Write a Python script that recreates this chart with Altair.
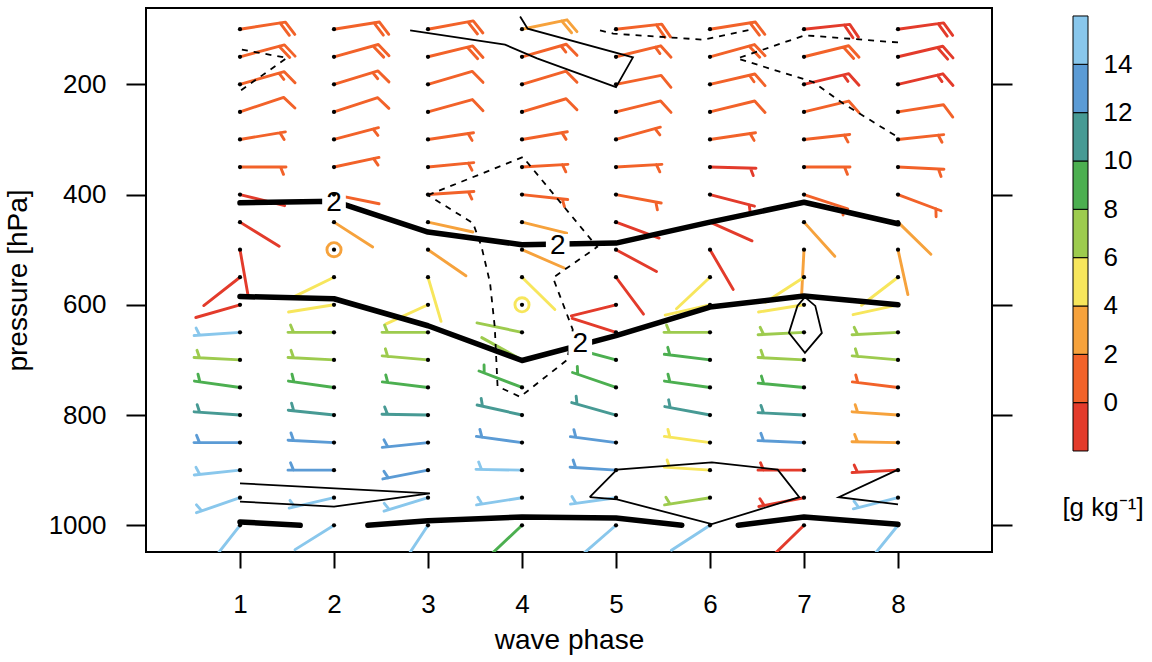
import altair as alt
import pandas as pd

FONT = "Liberation Sans"

# ---------------- data ----------------
phases = [1, 2, 3, 4, 5, 6, 7, 8]
levels = [100, 150, 200, 250, 300, 350, 400, 450, 500, 550,
          600, 650, 700, 750, 800, 850, 900, 950, 1000]

# barb kind per level (top -> bottom): 0 = shaft only, h = half, f = full,
# fh = full+half, ff = two full, c = calm circle
kind_p1 = ["ff", "ff", "fh", "f", "h", "h", "0", "0", "0", "0", "0", "h", "h", "h", "h", "h", "h", "h", "0"]
kind_p2 = ["ff", "ff", "fh", "f", "h", "h", "0", "0", "c", "0", "0", "h", "h", "h", "h", "h", "h", "h", "0"]
kind_p3 = ["ff", "ff", "f", "f", "h", "h", "h", "0", "0", "0", "0", "h", "h", "h", "h", "h", "h", "h", "0"]
kind_p4 = ["ff", "fh", "f", "f", "h", "h", "h", "0", "0", "0", "c", "0", "0", "h", "h", "h", "h", "h", "0"]
kind_p5 = ["ff", "fh", "f", "f", "h", "h", "h", "0", "0", "0", "0", "0", "h", "h", "h", "h", "h", "h", "0"]
kind_p6 = ["ff", "ff", "fh", "f", "h", "h", "h", "0", "0", "0", "0", "h", "h", "h", "h", "h", "h", "h", "0"]
kind_p7 = ["ff", "ff", "fh", "f", "h", "h", "h", "0", "0", "0", "0", "h", "h", "h", "h", "h", "h", "h", "0"]
kind_p8 = ["ff", "ff", "fh", "f", "h", "h", "h", "0", "0", "0", "0", "h", "h", "h", "h", "h", "h", "h", "0"]

# barb shaft direction on the page (degrees, clockwise from pointing right)
angle_p1 = [-8.9, -15, -16, -18.4, -9.5, 0, 14, 31.7, 80, 142, 164, 176, 183, 188, 184, 180, 174, 161, 128]
angle_p2 = [-9, -15.5, -16.9, -18, -14.8, -12, 11.5, 32.7, 0, 154, 171, 180, 183, 188, 186, 183, 180, 167, 148]
angle_p3 = [-10.4, -13.6, -16.4, -15.6, -8.4, -5.5, -3.8, 12.4, 34.6, 73.5, 155.5, 180, 185, 187, 181, 174, 169, 163, 123.5]
angle_p4 = [-11.8, -15.8, -16.6, -16.6, -9.7, -3.3, 6.2, 13.8, 23.5, 44.4, 0, 191.8, 209, 201, 192.6, 187.7, 181, 171, 136.7]
angle_p5 = [-6.4, -13.8, -11.2, -13.8, -15.5, -3.3, 10.6, 20.3, 28.4, 53.3, 166, 197.7, 195, 199, 195.7, 187.5, 183.7, 172, 139]
angle_p6 = [-9, -15.4, -13, -13.7, -8.4, 1.6, 14.6, 24, 59.7, 136.8, 167, 180, 187, 188, 190.6, 187.7, 183.8, 171, 147]
angle_p7 = [-6, -13.9, -13.4, -13.6, -6.2, 0, 18, 48, 93, 147, 171, 177, 183, 185.4, 183, 182.5, 180, 169, 135.7]
angle_p8 = [-7.9, -13.2, -13.2, -9, -6, 2.8, 20.6, 44.4, 77.6, 142.5, 167.6, 177, 185, 187, 184, 181, 177, 166, 129]

# specific humidity class (g/kg, estimated bin centre)
q_p1 = [1, 1, 1, 1, 1, 1, -1, -1, -1, -1, -1, 15, 7, 9, 11, 13, 15, 15, 15]
q_p2 = [1, 1, 1, 1, 1, 1, 1, 3, 3, 5, 5, 7, 7, 9, 11, 13, 13, 15, 15]
q_p3 = [1, 1, 1, 1, 1, 1, 1, 3, 3, 5, 5, 7, 7, 9, 11, 13, 13, 15, 15]
q_p4 = [3, 1, 1, 1, 1, 1, 1, 3, 3, 5, 5, 7, 7, 9, 11, 13, 15, 15, 9]
q_p5 = [1, 1, 1, 1, 1, 1, 1, -1, -1, -1, -1, -1, 9, 9, 11, 13, 13, 15, 15]
q_p6 = [1, 1, 1, 1, 1, -1, -1, -1, -1, 5, 5, 7, 9, 9, 11, 5, 5, 7, 15]
q_p7 = [-1, 1, -1, 1, 1, 1, 1, 3, 3, 5, 5, 7, 7, 9, 11, 13, -1, -1, -1]
q_p8 = [-1, -1, -1, 1, 1, 1, 1, 3, 3, 5, 5, 7, 7, 1, 3, 3, -1, 15, 15]

kinds = [kind_p1, kind_p2, kind_p3, kind_p4, kind_p5, kind_p6, kind_p7, kind_p8]
angles = [angle_p1, angle_p2, angle_p3, angle_p4, angle_p5, angle_p6, angle_p7, angle_p8]
qvals = [q_p1, q_p2, q_p3, q_p4, q_p5, q_p6, q_p7, q_p8]

# contour lines (phase, pressure)
thick_1 = [(1, 415), (2, 412), (3, 468), (4, 491), (5, 488), (6, 450), (7, 414), (8, 453)]
thick_2 = [(1, 585), (2, 589), (3, 638), (4, 701), (5, 656), (6, 604), (7, 584), (8, 600)]
thick_3 = [(1, 994), (1.64, 1000)]
thick_4 = [(2.36, 1000), (3, 992), (4, 985), (5, 987), (5.7, 1000)]
thick_5 = [(6.3, 1000), (7, 985), (8, 998)]

thin_1 = [(2.81, 102), (3.82, 128), (4.16, 153), (5.0, 205), (5.18, 151), (4.06, 99), (3.98, 77)]
thin_2 = [(1, 924), (3.02, 942), (2, 966), (1, 957)]
thin_3 = [(4.72, 949), (5.01, 899), (6.02, 886), (6.72, 899), (6.95, 949), (6.02, 998), (5.01, 953), (4.72, 949)]
thin_4 = [(8, 899), (7.37, 949), (8, 962)]
thin_5 = [(7.01, 586), (7.12, 602), (7.19, 651), (7.01, 687), (6.84, 651), (6.93, 602), (7.01, 586)]

dash_1 = [(1.02, 137), (1.5, 152), (1.0, 212)]
dash_2 = [(4.83, 102), (4.97, 108), (5.93, 119), (6.46, 100)]
dash_3 = [(8.0, 124), (7.01, 111), (6.29, 153), (7.10, 196), (7.41, 234), (8.0, 296)]
dash_4 = [(3.0, 401), (4.01, 332), (4.80, 495), (4.33, 551), (4.54, 645), (4.48, 700), (3.98, 767),
          (3.74, 748), (3.71, 640), (3.66, 560), (3.57, 495), (3.48, 452), (3.0, 401)]

label_phase = [2.0, 4.38, 4.62]
label_pressure = [415, 493, 672]
label_text = ["2", "2", "2"]

# colour classes
q_breaks = [0, 2, 4, 6, 8, 10, 12, 14]
q_colors = ["#e33b2b", "#f26229", "#f6a23c", "#f7e65c", "#9dcb4e",
            "#4caf50", "#479a94", "#5b9bd5", "#89c7ec"]
cb_lo = [-2, 0, 2, 4, 6, 8, 10, 12, 14]
cb_hi = [0, 2, 4, 6, 8, 10, 12, 14, 16]
cb_mid = [-1, 1, 3, 5, 7, 9, 11, 13, 15]

# ---------------- tables ----------------
rows = []
for i, p in enumerate(phases):
    for j, lev in enumerate(levels):
        rows.append({"phase": p, "pressure": lev, "kind": kinds[i][j],
                     "angle": angles[i][j] % 360, "q": qvals[i][j]})
stations = pd.DataFrame(rows)


def lines_frame(named):
    out = []
    for name, pts in named.items():
        for k, (ph, pr) in enumerate(pts):
            out.append({"line": name, "seq": k, "phase": ph, "pressure": pr})
    return pd.DataFrame(out)


thick_df = lines_frame({"t1": thick_1, "t2": thick_2, "t3": thick_3, "t4": thick_4, "t5": thick_5})
thin_df = lines_frame({"s1": thin_1, "s2": thin_2, "s3": thin_3, "s4": thin_4, "s5": thin_5})
dash_df = lines_frame({"d1": dash_1, "d2": dash_2, "d3": dash_3, "d4": dash_4})
label_df = pd.DataFrame({"phase": label_phase, "pressure": label_pressure, "text": label_text})
cb_df = pd.DataFrame({"lo": cb_lo, "hi": cb_hi, "q": cb_mid})

# ---------------- encodings ----------------
xs = alt.Scale(domain=[0, 9], nice=False, zero=False)
ys = alt.Scale(domain=[61.5, 1048.5], reverse=True, nice=False, zero=False)
qscale = alt.Scale(type="threshold", domain=q_breaks, range=q_colors)

x_enc = alt.X("phase:Q", scale=xs,
              axis=alt.Axis(values=phases, title="wave phase", tickSize=16,
                            labelPadding=23, titlePadding=9, titleFontSize=28))
y_enc = alt.Y("pressure:Q", scale=ys,
              axis=alt.Axis(values=[200, 400, 600, 800, 1000], title="pressure [hPa]",
                            format="d", tickSize=20, labelPadding=20, titlePadding=16,
                            titleFontSize=28))

barb_paths = {
    "0": "M0,0L1,0",
    "h": "M0,0L1,0M0.88,0L0.945,0.16",
    "f": "M0,0L1,0L1.159,0.296",
    "fh": "M0,0L1,0L1.159,0.296M0.88,0L0.945,0.16",
    "ff": "M0,0L1,0L1.159,0.296M0.88,0L1.039,0.296",
}

barbs = alt.Chart(stations).transform_filter(alt.datum.kind != "c").mark_point(
    filled=False, opacity=1, strokeWidth=2.9, size=8464, clip=True,
    strokeCap="round", strokeJoin="round"
).encode(
    x=x_enc, y=y_enc,
    shape=alt.Shape("kind:N", scale=alt.Scale(domain=list(barb_paths.keys()),
                                              range=list(barb_paths.values())), legend=None),
    angle=alt.Angle("angle:Q", scale=None),
    color=alt.Color("q:Q", scale=qscale, legend=None),
)

calm = alt.Chart(stations).transform_filter(alt.datum.kind == "c").mark_point(
    shape="circle", filled=False, opacity=1, strokeWidth=2.9, size=200
).encode(x=x_enc, y=y_enc, color=alt.Color("q:Q", scale=qscale, legend=None))

thick = alt.Chart(thick_df).mark_line(color="black", strokeWidth=5.5, strokeCap="round",
                                      strokeJoin="round").encode(
    x=x_enc, y=y_enc, detail="line:N", order="seq:Q")
thin = alt.Chart(thin_df).mark_line(color="black", strokeWidth=1.8).encode(
    x=x_enc, y=y_enc, detail="line:N", order="seq:Q")
dashed = alt.Chart(dash_df).mark_line(color="black", strokeWidth=1.8, strokeDash=[6, 6]).encode(
    x=x_enc, y=y_enc, detail="line:N", order="seq:Q")

label_box = alt.Chart(label_df).mark_point(shape="square", filled=True, color="white",
                                           opacity=1, size=560).encode(x=x_enc, y=y_enc)
label_txt = alt.Chart(label_df).mark_text(font=FONT, fontSize=28, color="black",
                                          align="center", baseline="middle").encode(
    x=x_enc, y=y_enc, text="text:N")

dots = alt.Chart(stations).mark_circle(color="black", size=18, opacity=1).encode(x=x_enc, y=y_enc)

main_layer = alt.layer(barbs, thick, thin, dashed, label_box, label_txt, dots, calm)

right_ticks = alt.Chart(stations).mark_point(opacity=0).encode(
    x=x_enc,
    y=alt.Y("pressure:Q", scale=ys,
            axis=alt.Axis(orient="right", values=[200, 400, 600, 800, 1000],
                          labels=False, title=None, tickSize=20)))

main = alt.layer(main_layer, right_ticks).resolve_axis(y="independent").properties(
    width=846, height=544, view=alt.ViewBackground(stroke="black", strokeWidth=2))

# ---------------- colour bar ----------------
cb_y = alt.Scale(domain=[-6.18, 16.33], nice=False, zero=False)
cb_bar = alt.Chart(cb_df).mark_rect(stroke="black", strokeWidth=1).encode(
    x=alt.value(12), x2=alt.value(27),
    y=alt.Y("lo:Q", scale=cb_y,
            axis=alt.Axis(orient="right", values=[0, 2, 4, 6, 8, 10, 12, 14], title=None,
                          ticks=False, domain=False, labelPadding=15)),
    y2="hi:Q",
    color=alt.Color("q:Q", scale=qscale, legend=None),
)
cb_title = alt.Chart(pd.DataFrame({"t": ["[g kg\u207b\u00b9]"]})).mark_text(
    font=FONT, fontSize=26, color="black", align="center", baseline="middle"
).encode(x=alt.value(42), y=alt.datum(-4.36), text="t:N")
colorbar = alt.layer(cb_bar, cb_title).properties(
    width=27, height=544, view=alt.ViewBackground(stroke="transparent"))

chart = alt.hconcat(main, colorbar, spacing=46).configure_axis(
    labelFont=FONT, titleFont=FONT, labelFontSize=26, titleFontSize=28,
    labelColor="black", titleColor="black", tickColor="black", tickWidth=2,
    grid=False, domain=False, titleFontWeight="normal"
).properties(
    padding={"left": 3, "top": 7, "right": 5, "bottom": 5}, background="white"
)

chart.save("out.html", embed_options={"renderer": "svg", "actions": False})
